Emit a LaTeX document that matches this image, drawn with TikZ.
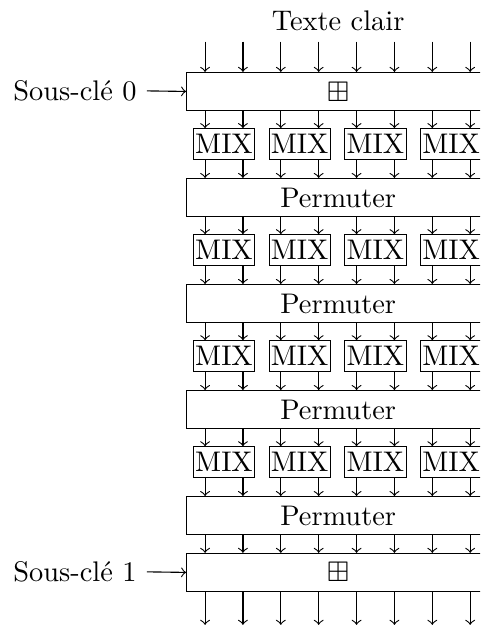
\documentclass[tikz,border=0pt]{standalone}
\usepackage{fontspec}
\usepackage{amssymb}
\begin{document}
\begin{tikzpicture}[x=0.4762cm,y=0.4762cm, line width=0.4pt, >=to,
  every node/.style={font=\fontsize{10.15}{12}\selectfont},
  layer/.style={draw, minimum width=3.8096cm, minimum height=0.4762cm, inner sep=0, anchor=north west},
  mixbox/.style={draw, minimum width=0.7714cm, minimum height=0.381cm, inner sep=0},
  flow/.style={->}]
\clip (0,0) rectangle (12.68,-16.53);
\node (title) at (8.93,-0.54) {Texte clair};
\node[layer] (k0) at (4.915,-1.9) {$\boxplus$};
\foreach \r in {1,...,4}{
  \pgfmathsetmacro\ym{-3.8-2.8*(\r-1)}
  \pgfmathsetmacro\yp{-4.7-2.8*(\r-1)}
  \foreach \j [evaluate=\j as \xm using 5.915+2*\j] in {0,...,3}
    \node[mixbox] (m\r-\j) at (\xm,\ym) {MIX};
  \node[layer] (p\r) at (4.915,\yp) {Permuter};
}
\node[layer] (k1) at (4.915,-14.6) {$\boxplus$};
\foreach \i in {1,...,8}{
  \coordinate (t\i) at (4.415+\i,-1.1);
  \coordinate (b\i) at (4.415+\i,-16.5);
}
\foreach \i in {1,...,8}{
  \draw[flow] (t\i) -- (t\i |- k0.north);
  \draw[flow] (t\i |- k0.south) -- (t\i |- m1-0.north);
  \foreach \r in {1,...,4}
    \draw[flow] (t\i |- m\r-0.south) -- (t\i |- p\r.north);
  \foreach \r/\s in {1/2,2/3,3/4}
    \draw[flow] (t\i |- p\r.south) -- (t\i |- m\s-0.north);
  \draw[flow] (t\i |- p4.south) -- (t\i |- k1.north);
  \draw[flow] (t\i |- k1.south) -- (b\i);
}
\node[anchor=east, inner sep=0.124cm] (s0) at (3.88,-2.4) {Sous-clé 0};
\node[anchor=east, inner sep=0.124cm] (s1) at (3.88,-15.1) {Sous-clé 1};
\draw[flow] (s0.east) -- (k0.west);
\draw[flow] (s1.east) -- (k1.west);
\end{tikzpicture}
\end{document}
